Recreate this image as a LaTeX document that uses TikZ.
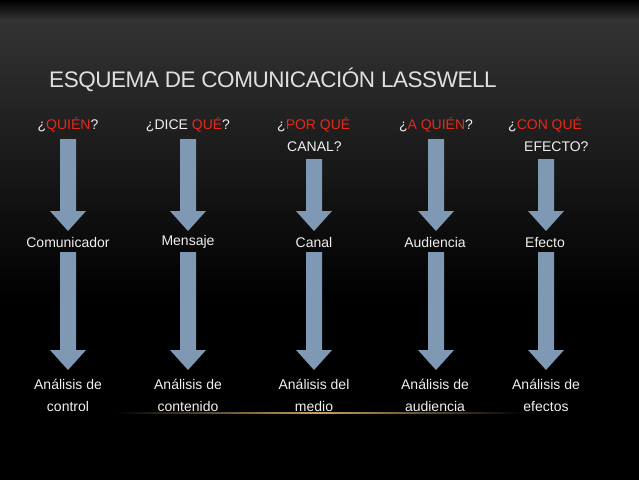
\documentclass[tikz,border=0pt]{standalone}
\usepackage{fontspec}
\setmainfont{Liberation Sans}
\definecolor{arr}{HTML}{7F98B3}
\definecolor{red1}{HTML}{E42A1C}
\definecolor{txt}{HTML}{F0F0F0}
\definecolor{gold}{HTML}{C8A060}
\begin{document}
\begin{tikzpicture}[x=1pt,y=-1pt,
  lbl/.style={text=txt,font=\fontsize{14}{16}\selectfont,align=center,inner sep=0pt},
  ttl/.style={text=txt!85!gray,font=\fontsize{22.5}{28}\selectfont,anchor=west,inner sep=0pt}]
\useasboundingbox (0,0) rectangle (639,480);
\fill[black] (0,0) rectangle (639,480);
\shade[top color=black!80!white,bottom color=black] (0,20) rectangle (639,300);
\shade[top color=black,bottom color=black!80!white] (0,0) rectangle (639,20);
% gold line
\shade[left color=black,right color=gold] (115,412) rectangle (320,413.5);
\shade[left color=gold,right color=black] (320,412) rectangle (525,413.5);
\node[ttl] (title) at (49,80) {\addfontfeature{LetterSpace=-2}ESQUEMA DE COMUNICACIÓN LASSWELL};
\newcommand{\myarrow}[3]{% x, ytop, ybottom
  \fill[arr] (#1-8,#2) -- (#1+8,#2) -- (#1+8,#3-20) -- (#1+18,#3-20) -- (#1,#3) -- (#1-18,#3-20) -- (#1-8,#3-20) -- cycle;}
% top labels
\node[lbl] (q1) at (68,125) {¿\textcolor{red1}{QUIÉN}?};
\node[lbl] (q2) at (188,125) {¿DICE \textcolor{red1}{QUÉ}?};
\node[lbl,align=left,anchor=north west] (q3) at (277,117) {¿\textcolor{red1}{POR QUÉ}\\[6pt]\hspace*{10pt}CANAL?};
\node[lbl] (q4) at (436,125) {¿\textcolor{red1}{A QUIÉN}?};
\node[lbl,align=left,anchor=north west] (q5) at (508,117) {¿\textcolor{red1}{CON QUÉ}\\[6pt]\hspace*{16pt}EFECTO?};
% middle
\node[lbl] (m1) at (68,242) {Comunicador};
\node[lbl] (m2) at (188,242) {Mensaje};
\node[lbl] (m3) at (314,242) {Canal};
\node[lbl] (m4) at (435,242) {Audiencia};
\node[lbl] (m5) at (545,242) {Efecto};
% bottom
\node[lbl] (b1) at (68,395) {Análisis de\\[6pt]control};
\node[lbl] (b2) at (188,395) {Análisis de\\[6pt]contenido};
\node[lbl] (b3) at (314,395) {Análisis del\\[6pt]medio};
\node[lbl] (b4) at (435,395) {Análisis de\\[6pt]audiencia};
\node[lbl] (b5) at (546,395) {Análisis de\\[6pt]efectos};
% arrows
\myarrow{68}{139}{231}
\myarrow{188}{139}{231}
\myarrow{314}{159}{231}
\myarrow{436}{139}{231}
\myarrow{546}{159}{231}
\myarrow{68}{252}{370}
\myarrow{188}{252}{370}
\myarrow{314}{252}{370}
\myarrow{436}{252}{370}
\myarrow{546}{252}{370}
\end{tikzpicture}
\end{document}
